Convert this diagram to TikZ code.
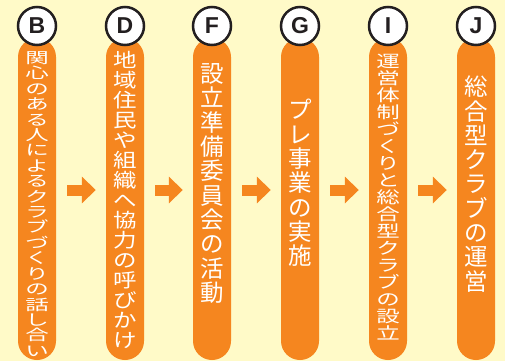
\documentclass[tikz,border=0pt]{standalone}
\usepackage{fontspec}
\usepackage{graphicx}
\newfontfamily\jpfont{Noto Sans CJK JP}
\setsansfont{Liberation Sans}
\usetikzlibrary{arrows.meta}
\definecolor{bg}{RGB}{255,250,200}
\definecolor{org}{RGB}{245,134,31}
\definecolor{ink}{RGB}{35,31,32}
\newcommand{\vtxt}[2]{\scalebox{1}[#1]{\parbox{30pt}{\centering\jpfont\fontsize{23.5}{24.3}\selectfont #2}}}
\tikzset{
  bar/.style={rectangle, fill=org, minimum width=38pt, minimum height=322pt, rounded corners=19pt, inner sep=0pt},
  lab/.style={circle, fill=white, draw=ink, line width=2.5pt, minimum size=38pt, inner sep=0pt,
    text=ink, font=\sffamily\bfseries\fontsize{23}{23}\selectfont},
  vt/.style={inner sep=0pt, text=white},
  arw/.style={draw=org, line width=11pt, -{Triangle[width=26pt,length=14pt]}, shorten <=11pt, shorten >=10pt}
}
\begin{document}
\begin{tikzpicture}[x=1pt,y=-1pt]
\fill[bg] (0,0) rectangle (505,361);
\useasboundingbox (0,0) rectangle (505,361);
% bars
\node[bar] (bB) at (37,199) {};
\node[bar] (bD) at (125,199) {};
\node[bar] (bF) at (212,199) {};
\node[bar] (bG) at (300,199) {};
\node[bar] (bI) at (388,199) {};
\node[bar] (bJ) at (476,199) {};
% circles
\node[lab] (cB) at (37,26) {B};
\node[lab] (cD) at (125,26) {D};
\node[lab] (cF) at (212,26) {F};
\node[lab] (cG) at (300,26) {G};
\node[lab] (cI) at (388,26) {I};
\node[lab] (cJ) at (476,26) {J};
% texts
\node[vt] (tB) at (37,204) {\vtxt{0.634}{関\\心\\の\\あ\\る\\人\\に\\よ\\る\\ク\\ラ\\ブ\\づ\\く\\り\\の\\話\\し\\合\\い}};
\node[vt] (tD) at (125,200) {\vtxt{0.823}{地\\域\\住\\民\\や\\組\\織\\へ\\協\\力\\の\\呼\\び\\か\\け}};
\node[vt] (tF) at (212,183.5) {\vtxt{1}{設\\立\\準\\備\\委\\員\\会\\の\\活\\動}};
\node[vt] (tG) at (300,183) {\vtxt{1}{プ\\レ\\事\\業\\の\\実\\施}};
\node[vt] (tI) at (388,197.5) {\vtxt{0.70}{運\\営\\体\\制\\づ\\く\\り\\と\\総\\合\\型\\ク\\ラ\\ブ\\の\\設\\立}};
\node[vt] (tJ) at (476,184) {\vtxt{1}{総\\合\\型\\ク\\ラ\\ブ\\の\\運\\営}};
% arrows
\draw[arw] ([yshift=9pt]bB.east) -- ([yshift=9pt]bD.west);
\draw[arw] ([yshift=9pt]bD.east) -- ([yshift=9pt]bF.west);
\draw[arw] ([yshift=9pt]bF.east) -- ([yshift=9pt]bG.west);
\draw[arw] ([yshift=9pt]bG.east) -- ([yshift=9pt]bI.west);
\draw[arw] ([yshift=9pt]bI.east) -- ([yshift=9pt]bJ.west);
\end{tikzpicture}
\end{document}
